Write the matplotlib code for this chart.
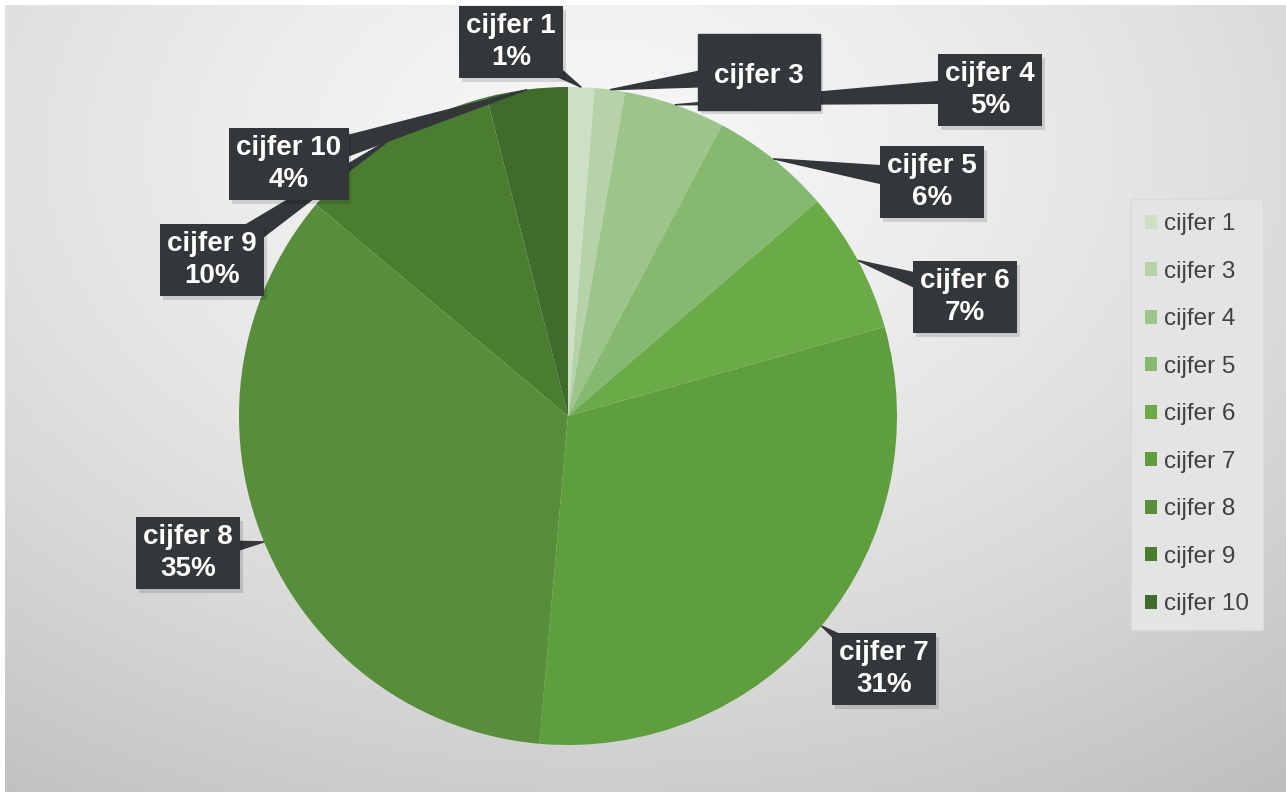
import numpy as np
import matplotlib.pyplot as plt
import matplotlib.patheffects as pe
from matplotlib.patches import Polygon, Rectangle

plt.rcParams['font.family'] = ['Liberation Sans', 'DejaVu Sans']

# data
labels = ['cijfer 1', 'cijfer 3', 'cijfer 4', 'cijfer 5', 'cijfer 6',
          'cijfer 7', 'cijfer 8', 'cijfer 9', 'cijfer 10']
values = [1.3, 1.5, 5, 6, 7, 31, 35, 10, 4]
pct_text = ['1%', '', '5%', '6%', '7%', '31%', '35%', '10%', '4%']
colors = ['#cde0c5', '#b5d2a8', '#9dc58b', '#86b96f', '#6aab47',
          '#5f9e3c', '#578e39', '#4b7d31', '#3f6b2b']

# label box centres (pixel layout, y from top)
box_pos = [(511, 42), (759, 72), (990, 90), (932, 182), (965, 297),
           (884, 669), (188, 553), (212, 260), (289, 164)]

W, H = 1286, 792
fig = plt.figure(figsize=(W / 100, H / 100), dpi=100)

# radial grey background
bg = fig.add_axes([0, 0, 1, 1])
yy, xx = np.mgrid[0:H, 0:W]
d = np.sqrt(((xx - 600) / 800.0) ** 2 + ((yy - 150) / 560.0) ** 2)
shade = np.clip(0.965 - 0.13 * d ** 1.5, 0.74, 1)
shade = np.dstack([shade, shade, shade * 1.005])
shade = np.clip(shade, 0, 1)
shade[:5, :, :] = 1.0
shade[:, :5, :] = 1.0
bg.imshow(shade, extent=[0, W, H, 0], aspect='auto', interpolation='bilinear')
bg.axis('off')

ax = fig.add_axes([0, 0, 1, 1])
ax.patch.set_alpha(0)

cx, cy, r = 568, H - 416, 329
wedges, _ = ax.pie(values, colors=colors, startangle=90, counterclock=False,
                   center=(cx, cy), radius=r, frame=True,
                   wedgeprops=dict(linewidth=0))
ax.set_xlim(0, W)
ax.set_ylim(0, H)
ax.axis('off')

box_col = '#34373a'
shadow = [pe.withSimplePatchShadow(offset=(2, -3), shadow_rgbFace='k', alpha=0.13)]
for i, w in enumerate(wedges):
    ang = np.deg2rad((w.theta1 + w.theta2) / 2)
    tip = np.array([cx + r * np.cos(ang), cy + r * np.sin(ang)])
    bx, by = box_pos[i]
    base = np.array([bx, H - by])
    dvec = tip - base
    perp = np.array([-dvec[1], dvec[0]]) / np.hypot(*dvec)
    poly = Polygon([tip, base + perp * 13, base - perp * 13],
                   closed=True, color=box_col, zorder=3)
    ax.add_patch(poly)
    if pct_text[i] == '':
        rect = Rectangle((bx - 61, H - by - 38), 122, 76, color=box_col, zorder=3.5)
        rect.set_path_effects(shadow)
        ax.add_patch(rect)
        ax.text(bx, H - by - 4, labels[i], ha='center', va='center', color='white',
                fontsize=20, fontweight='bold', zorder=4)
    else:
        t = ax.text(bx, H - by, labels[i] + '\n' + pct_text[i], ha='center',
                    va='center', color='white', fontsize=20, fontweight='bold',
                    linespacing=1.3, zorder=4,
                    bbox=dict(boxstyle='square,pad=0.25', fc=box_col, ec='none'))
        t.get_bbox_patch().set_path_effects(shadow)

leg = ax.legend(wedges, labels, loc='upper left', bbox_to_anchor=(1138 / W, 1 - 206 / H),
                frameon=True, fontsize=17.5, labelspacing=1.05, handlelength=0.5,
                handleheight=0.5, handletextpad=0.25, borderpad=0.3,
                borderaxespad=0, labelcolor='#404040')
leg.get_frame().set_facecolor('#e4e4e4')
leg.get_frame().set_edgecolor('#dadada')
leg.get_frame().set_boxstyle('square')
leg.get_frame().set_alpha(1)

fig.savefig('out.png', dpi=100)
